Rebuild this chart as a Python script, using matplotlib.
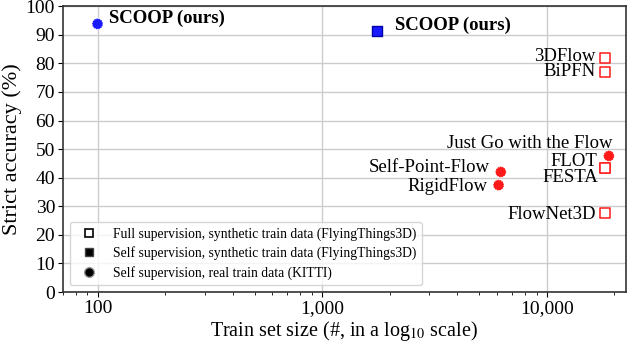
import numpy as np
import matplotlib
matplotlib.use('Agg')
import matplotlib.pyplot as plt
from matplotlib.lines import Line2D
from matplotlib.ticker import FuncFormatter

plt.rcParams['font.family'] = ['Liberation Serif', 'DejaVu Serif']
plt.rcParams['mathtext.fontset'] = 'stix'

# ---- Data ----
full_names = ['3DFlow', 'BiPFN', 'FLOT', 'FESTA', 'FlowNet3D']
full_size = [18100, 18100, 18100, 18100, 18100]
full_acc = [81.8, 76.9, 43.4, 43.4, 27.6]

selfsyn_names = ['SCOOP (ours)']
selfsyn_size = [1750]
selfsyn_acc = [91.3]

selfreal_names = ['SCOOP (ours)', 'Just Go with the Flow', 'Self-Point-Flow', 'RigidFlow']
selfreal_size = [100, 18900, 6240, 6100]
selfreal_acc = [93.8, 47.6, 42.0, 37.4]

RED = '#FF1A1A'
BLUE = '#1A1AFF'

fig, ax = plt.subplots(figsize=(6.4, 3.44), dpi=100)
fig.subplots_adjust(left=0.098, right=0.978, top=0.982, bottom=0.151)

ax.scatter(full_size, full_acc, marker='s', s=42, facecolor='white',
           edgecolor=RED, linewidth=1.1, zorder=3)
ax.scatter(selfsyn_size, selfsyn_acc, marker='s', s=42, facecolor=BLUE,
           edgecolor='#0000AA', linewidth=1.0, zorder=3)
for x, y in zip(selfreal_size, selfreal_acc):
    c = BLUE if x < 1000 else RED
    ax.scatter([x], [y], marker='o', s=60, facecolor=c, edgecolor='white',
               linewidth=0.7, linestyle=':', zorder=3)

# ---- Labels ----
fs = 13.5
ax.text(112, 95.8, 'SCOOP (ours)',
        fontsize=fs, fontweight='bold', ha='left', va='center')
ax.text(2100, 93.4, 'SCOOP (ours)',
        fontsize=fs, fontweight='bold', ha='left', va='center')
ax.text(16500, 82.5, '3DFlow', fontsize=fs, ha='right', va='center')
ax.text(16500, 77.0, 'BiPFN', fontsize=fs, ha='right', va='center')
ax.text(19700, 52.1, 'Just Go with the Flow', fontsize=fs, ha='right', va='center')
ax.text(16700, 45.5, 'FLOT', fontsize=fs, ha='right', va='center')
ax.text(17000, 39.9, 'FESTA', fontsize=fs, ha='right', va='center')
ax.text(5570, 43.4, 'Self-Point-Flow', fontsize=fs, ha='right', va='center')
ax.text(5450, 36.9, 'RigidFlow', fontsize=fs, ha='right', va='center')
ax.text(16500, 27.3, 'FlowNet3D', fontsize=fs, ha='right', va='center')

# ---- Axes ----
ax.set_xscale('log')
ax.set_xlim(70, 22500)
ax.set_ylim(0, 100)
ax.set_yticks(np.arange(0, 101, 10))
ax.xaxis.set_major_formatter(FuncFormatter(lambda v, p: f'{int(v):,}'))
ax.tick_params(labelsize=14, pad=2)
ax.grid(True, which='major', color='#CCCCCC', linewidth=1.0)
ax.set_axisbelow(True)
for sp in ax.spines.values():
    sp.set_color('#333333')
    sp.set_linewidth(1.2)
ax.set_xlabel(r'Train set size (#, in a log$_{10}$ scale)', fontsize=14.5, labelpad=2)
ax.set_ylabel('Strict accuracy (%)', fontsize=16, labelpad=3)

handles = [
    Line2D([], [], marker='s', ls='', markerfacecolor='white', markeredgecolor='black',
           markeredgewidth=1.2, markersize=6),
    Line2D([], [], marker='s', ls='', markerfacecolor='black', markeredgecolor='#444444',
           markersize=6),
    Line2D([], [], marker='o', ls='', markerfacecolor='black', markeredgecolor='#999999',
           markersize=7),
]
ax.legend(handles, ['Full supervision, synthetic train data (FlyingThings3D)',
                    'Self supervision, synthetic train data (FlyingThings3D)',
                    'Self supervision, real train data (KITTI)'],
          loc='lower left', fontsize=9.8, labelspacing=0.4, framealpha=0.8)

plt.savefig('out.png', dpi=100)
